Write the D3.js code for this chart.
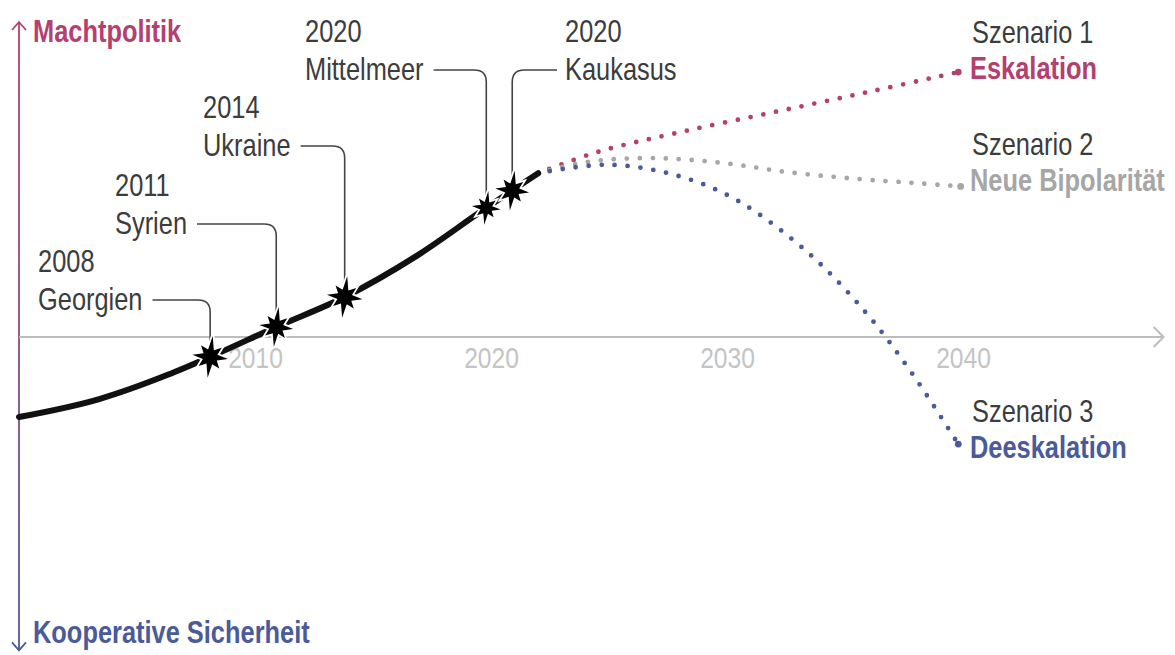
<!DOCTYPE html>
<html>
<head>
<meta charset="utf-8">
<script src="https://cdn.jsdelivr.net/npm/d3@7"></script>
<style>
  body { margin: 0; background: #fff; }
  svg { display: block; }
</style>
</head>
<body>
<svg id="canvas"></svg>
<script>
// past trend (black line), time axis position in years, value on the Machtpolitik scale
const trendYears = [2000, 2003.4, 2006.3, 2008.1, 2010.9, 2013.8, 2016.9, 2019.8, 2020.9, 2022];
const trendValues = [-2.54, -1.97, -1.2, -0.63, 0.32, 1.27, 2.6, 4.1, 4.65, 5.2];

// events (stars)
const eventYears = ['2008', '2011', '2014', '2020', '2020'];
const eventPlaces = ['Georgien', 'Syrien', 'Ukraine', 'Mittelmeer', 'Kaukasus'];
const eventX = [2008.1, 2010.9, 2013.8, 2019.8, 2020.9];
const eventValues = [-0.63, 0.32, 1.27, 4.1, 4.65];

// scenarios (dotted lines)
const eskalationYears = [2022, 2024.5, 2028, 2032, 2036, 2039.8];
const eskalationValues = [5.2, 5.87, 6.5, 7.14, 7.78, 8.41];
const bipolarYears = [2022, 2024, 2026.5, 2028.5, 2030.5, 2032.5, 2035.5, 2037.9, 2039.9];
const bipolarValues = [5.2, 5.55, 5.68, 5.62, 5.46, 5.24, 5.02, 4.89, 4.78];
const deeskalationYears = [2022, 2025, 2028, 2030.4, 2033.4, 2035.9, 2037.8, 2039.8];
const deeskalationValues = [5.2, 5.47, 5.1, 4.35, 2.7, 0.76, -1.11, -3.4];

const scenarioNames = ['Szenario 1', 'Szenario 2', 'Szenario 3'];
const scenarioTitles = ['Eskalation', 'Neue Bipolarität', 'Deeskalation'];

const tickYears = [2010, 2020, 2030, 2040];
const axisTop = 'Machtpolitik';
const axisBottom = 'Kooperative Sicherheit';

const width = 1175;
const height = 655;
const font = "'Liberation Sans', Arial, sans-serif";
const squeeze = 0.82; // condensed look
const pink = '#b3406e';
const blue = '#4b5a98';
const grey = '#a6a6a6';
const textCol = '#3c3c3c';

const svg = d3.select('#canvas')
    .attr('width', width)
    .attr('height', height);

const xScale = d3.scaleLinear().domain([2000, 2040]).range([19, 963]);
const yScale = d3.scaleLinear().domain([0, 10]).range([337, 22]);

const zip = (xs, ys) => xs.map((d, i) => [d, ys[i]]);

// condensed text helper
const addText = (x, y, str, color, bold) => {
    return svg.append('text')
        .attr('transform', `translate(${x},${y}) scale(${squeeze},1)`)
        .attr('font-family', font)
        .attr('font-size', 31)
        .attr('font-weight', bold ? 'bold' : 'normal')
        .attr('fill', color)
        .text(str);
};

// vertical axis with gradient
const defs = svg.append('defs');
const grad = defs.append('linearGradient')
    .attr('id', 'yGrad')
    .attr('gradientUnits', 'userSpaceOnUse')
    .attr('x1', 0).attr('x2', 0)
    .attr('y1', yScale(10)).attr('y2', yScale(-9.95));
grad.append('stop').attr('offset', '0%').attr('stop-color', pink);
grad.append('stop').attr('offset', '50%').attr('stop-color', '#8a4b80');
grad.append('stop').attr('offset', '100%').attr('stop-color', blue);

const x0 = xScale(2000);
svg.append('line')
    .attr('x1', x0).attr('x2', x0)
    .attr('y1', yScale(10)).attr('y2', yScale(-9.95))
    .attr('stroke', 'url(#yGrad)')
    .attr('stroke-width', 1.8);

svg.append('path')
    .attr('d', `M${x0 - 7},${yScale(10) + 8}L${x0},${yScale(10)}L${x0 + 7},${yScale(10) + 8}`)
    .attr('fill', 'none').attr('stroke', pink).attr('stroke-width', 1.8);
svg.append('path')
    .attr('d', `M${x0 - 7},${yScale(-9.95) - 8}L${x0},${yScale(-9.95)}L${x0 + 7},${yScale(-9.95) - 8}`)
    .attr('fill', 'none').attr('stroke', blue).attr('stroke-width', 1.8);

addText(33, 42, axisTop, pink, true);
addText(33, 643, axisBottom, blue, true);

// horizontal time axis
const xEnd = xScale(2048.5);
svg.append('line')
    .attr('x1', x0).attr('x2', xEnd)
    .attr('y1', yScale(0)).attr('y2', yScale(0))
    .attr('stroke', '#bdbdbd').attr('stroke-width', 2);
svg.append('path')
    .attr('d', `M${xEnd - 10},${yScale(0) - 10}L${xEnd},${yScale(0)}L${xEnd - 10},${yScale(0) + 10}`)
    .attr('fill', 'none').attr('stroke', '#bdbdbd').attr('stroke-width', 2);

const xAxis = d3.axisBottom(xScale)
    .tickValues(tickYears)
    .tickFormat(d3.format('d'))
    .tickSize(0);

const xg = svg.append('g')
    .attr('transform', 'translate(0,' + yScale(0) + ')')
    .call(xAxis);
xg.select('.domain').remove();
xg.selectAll('text')
    .attr('y', 31).attr('dy', 0)
    .attr('transform', `scale(${squeeze},1)`)
    .attr('font-family', font).attr('font-size', 30)
    .attr('fill', '#c4c4c4');

// scenario dotted lines
const line = d3.line()
    .x(d => xScale(d[0]))
    .y(d => yScale(d[1]))
    .curve(d3.curveCatmullRom.alpha(0.5));

const trendLine = d3.line()
    .x(d => xScale(d[0]))
    .y(d => yScale(d[1]))
    .curve(d3.curveMonotoneX);

const scenarios = [
    { pts: zip(eskalationYears, eskalationValues), color: pink },
    { pts: zip(bipolarYears, bipolarValues), color: grey },
    { pts: zip(deeskalationYears, deeskalationValues), color: blue }
];

scenarios.forEach(s => {
    svg.append('path')
        .attr('d', line(s.pts))
        .attr('fill', 'none')
        .attr('stroke', s.color)
        .attr('stroke-width', 4.8)
        .attr('stroke-linecap', 'round')
        .attr('stroke-dasharray', '0 13')
        .attr('stroke-dashoffset', -12);
    const last = s.pts[s.pts.length - 1];
    svg.append('circle')
        .attr('cx', xScale(last[0]))
        .attr('cy', yScale(last[1]))
        .attr('r', 3.4)
        .attr('fill', s.color);
});

// past trend
svg.append('path')
    .attr('d', trendLine(zip(trendYears, trendValues)))
    .attr('fill', 'none')
    .attr('stroke', '#111')
    .attr('stroke-width', 6)
    .attr('stroke-linecap', 'round');

// leaders and event labels
const labelPos = [
    { x: 38, y: 272, side: 'right' },
    { x: 115, y: 196, side: 'right' },
    { x: 203, y: 118, side: 'right' },
    { x: 305, y: 42, side: 'right' },
    { x: 565, y: 42, side: 'left' }
];
const starR = [21, 20, 21, 17, 20];

eventPlaces.forEach((place, i) => {
    const p = labelPos[i];
    addText(p.x, p.y, eventYears[i], textCol, false);
    const t = addText(p.x, p.y + 38, place, textCol, false);
    const tw = t.node().getComputedTextLength() * squeeze;
    const ly = p.y + 28;
    const sx = xScale(eventX[i]);
    const sy = yScale(eventValues[i]) - starR[i] * 0.7;
    const r = 12;
    let d;
    if (p.side === 'right') {
        const startX = p.x + tw + 10;
        d = `M${startX},${ly}H${sx - r}Q${sx},${ly} ${sx},${ly + r}V${sy}`;
    } else {
        const startX = p.x - 8;
        d = `M${startX},${ly}H${sx + r}Q${sx},${ly} ${sx},${ly + r}V${sy}`;
    }
    svg.append('path')
        .attr('d', d)
        .attr('fill', 'none')
        .attr('stroke', '#444')
        .attr('stroke-width', 1.6);
});

// stars
const starShape = [1, 0.7, 0.85, 0.7, 1, 0.7, 0.85, 0.7];
const starPath = (R) => {
    const pts = [];
    for (let k = 0; k < 16; k++) {
        const a = k * Math.PI / 8 + 0.12;
        const rr = k % 2 === 0 ? R * starShape[k / 2] : R * 0.36;
        pts.push([a, rr]);
    }
    return d3.lineRadial().curve(d3.curveLinearClosed)(pts);
};

eventX.forEach((ex, i) => {
    svg.append('path')
        .attr('d', starPath(starR[i]))
        .attr('transform', `translate(${xScale(ex)},${yScale(eventValues[i])})`)
        .attr('fill', '#000')
        .attr('stroke', '#fff')
        .attr('stroke-width', 3.5)
        .attr('stroke-linejoin', 'miter')
        .attr('paint-order', 'stroke');
});

// scenario labels
const scenPos = [43, 155, 422];
scenarioNames.forEach((name, i) => {
    addText(972, scenPos[i], name, textCol, false);
    addText(970, scenPos[i] + 36, scenarioTitles[i], scenarios[i].color, true);
});
</script>
</body>
</html>
